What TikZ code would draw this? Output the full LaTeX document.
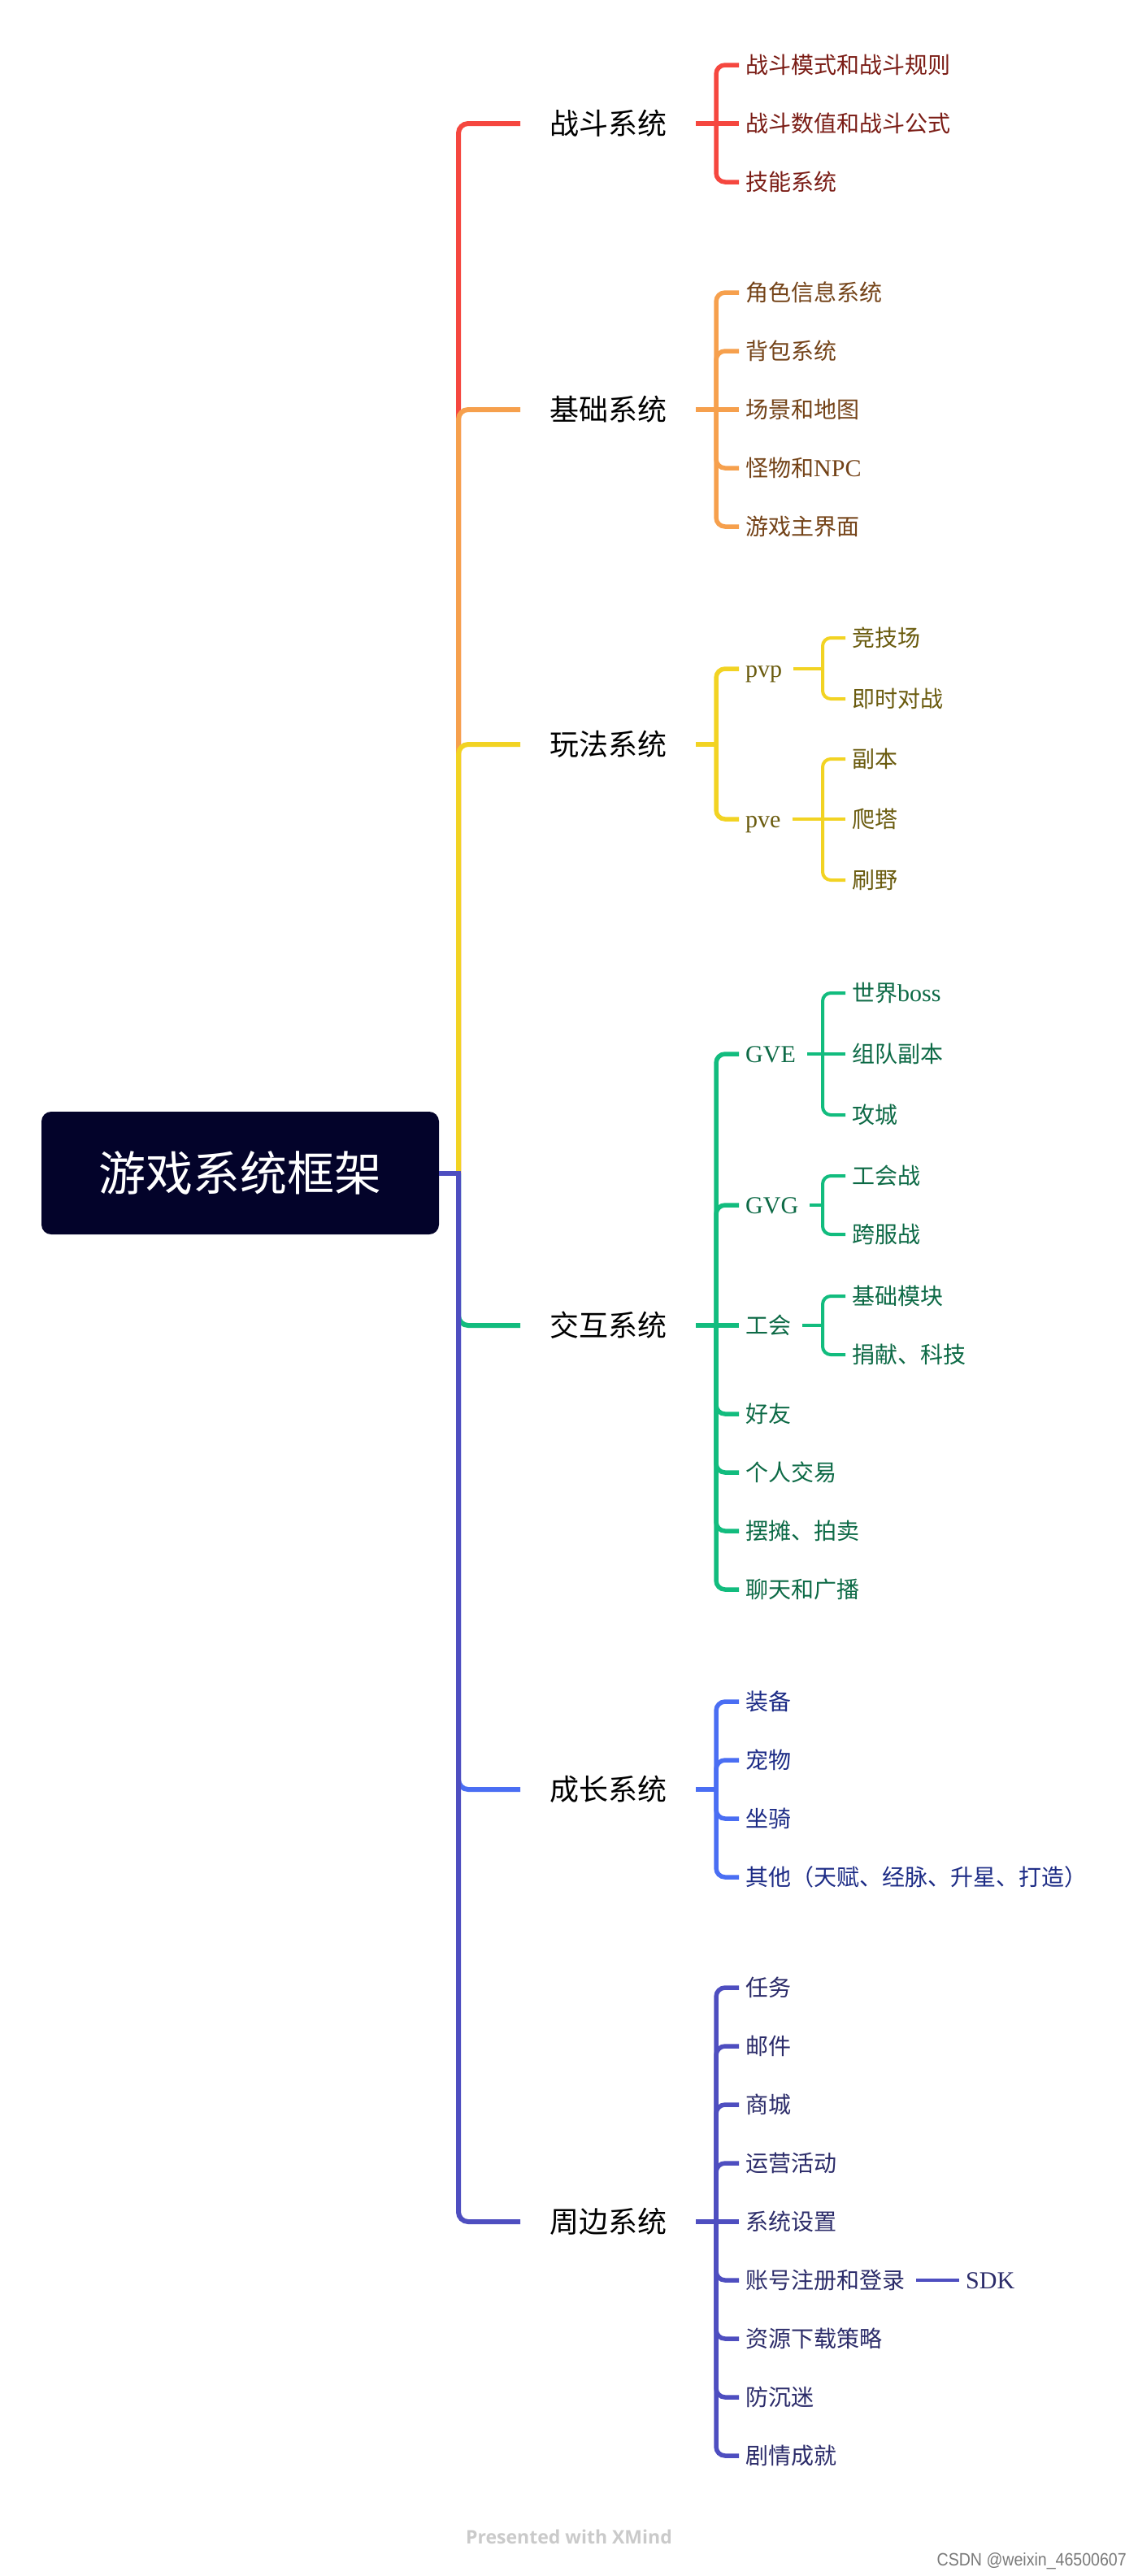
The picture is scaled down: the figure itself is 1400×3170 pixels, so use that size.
\documentclass[tikz,border=0pt]{standalone}
\usepackage{fontspec}
\setmainfont{Noto Sans CJK SC}
\newfontfamily\cjkf{Noto Sans CJK SC}
\newfontfamily\latf{Liberation Serif}
\newfontfamily\xmf{Open Sans}
\newfontfamily\wmf{Liberation Sans}
\newcommand\LatTxt[1]{{\latf\fontsize{30}{32}\selectfont #1}}
\definecolor{rootbg}{HTML}{03032A}
\definecolor{cRed}{HTML}{F5473F}
\definecolor{cOrange}{HTML}{F6A04D}
\definecolor{cYellow}{HTML}{F2D323}
\definecolor{cGreen}{HTML}{12BC7E}
\definecolor{cBlue}{HTML}{4A6EF3}
\definecolor{cPurple}{HTML}{4E4EC0}
\definecolor{tRed}{HTML}{7B1D16}
\definecolor{tOrange}{HTML}{744318}
\definecolor{tYellow}{HTML}{6A5B0E}
\definecolor{tGreen}{HTML}{0D6A46}
\definecolor{tBlue}{HTML}{1D2C86}
\definecolor{tPurple}{HTML}{2C2C6A}
\definecolor{xmgray}{HTML}{CACACA}
\definecolor{wmgray}{HTML}{7A7A7A}
\begin{document}
\begin{tikzpicture}[x=1pt,y=-1pt,
  rootbox/.style={fill=rootbg, rounded corners=12pt, minimum width=489pt, minimum height=151pt,
    text=white, font=\cjkf\fontsize{58}{64}\selectfont, inner sep=0pt},
  topic/.style={anchor=west, inner xsep=36pt, inner ysep=0pt, text=black,
    font=\cjkf\fontsize{36}{40}\selectfont, text height=31.3pt, text depth=4.7pt},
  leaf/.style={anchor=west, inner xsep=8pt, inner ysep=0pt, text=#1,
    font=\cjkf\fontsize{28}{32}\selectfont, text height=24.4pt, text depth=3.6pt},
  lone/.style={draw=#1, line width=6pt, rounded corners=12pt},
  ltwo/.style={draw=#1, line width=5.5pt, rounded corners=11pt},
  lthree/.style={draw=#1, line width=4pt, rounded corners=10pt},
]
\useasboundingbox[fill=white] (0,0) rectangle (1400,3170);

% root
\node[rootbox] (root) at (295.5,1443.5) {游戏系统框架};
\coordinate (T) at (564,0);
\coordinate (B2) at (881,0);
\coordinate (B3) at (1012,0);
\coordinate (J) at (T |- root.east);

% level 1
\node[topic] (zd) at (640,152) {战斗系统};
\node[topic] (jc) at (640,504) {基础系统};
\node[topic] (wf) at (640,916) {玩法系统};
\node[topic] (hd) at (640,1631) {交互系统};
\node[topic] (cz) at (640,2202) {成长系统};
\node[topic] (zb) at (640,2734) {周边系统};

% 战斗
\node[leaf=tRed] (zd1) at (909,80) {战斗模式和战斗规则};
\node[leaf=tRed] (zd2) at (909,152) {战斗数值和战斗公式};
\node[leaf=tRed] (zd3) at (909,224) {技能系统};
% 基础
\node[leaf=tOrange] (jc1) at (909,360) {角色信息系统};
\node[leaf=tOrange] (jc2) at (909,432) {背包系统};
\node[leaf=tOrange] (jc3) at (909,504) {场景和地图};
\node[leaf=tOrange] (jc4) at (909,576) {怪物和\LatTxt{NPC}};
\node[leaf=tOrange] (jc5) at (909,648) {游戏主界面};
% 玩法
\node[leaf=tYellow] (pvp) at (909,823) {\LatTxt{pvp}};
\node[leaf=tYellow] (pve) at (909,1008) {\LatTxt{pve}};
\node[leaf=tYellow] (pvp1) at (1040,785) {竞技场};
\node[leaf=tYellow] (pvp2) at (1040,860) {即时对战};
\node[leaf=tYellow] (pve1) at (1040,934) {副本};
\node[leaf=tYellow] (pve2) at (1040,1008) {爬塔};
\node[leaf=tYellow] (pve3) at (1040,1083) {刷野};
% 交互
\node[leaf=tGreen] (gve) at (909,1297) {\LatTxt{GVE}};
\node[leaf=tGreen] (gvg) at (909,1483) {\LatTxt{GVG}};
\node[leaf=tGreen] (gh) at (909,1631) {工会};
\node[leaf=tGreen] (hy) at (909,1740) {好友};
\node[leaf=tGreen] (gr) at (909,1812) {个人交易};
\node[leaf=tGreen] (bt) at (909,1884) {摆摊、拍卖};
\node[leaf=tGreen] (lt) at (909,1956) {聊天和广播};
\node[leaf=tGreen] (gve1) at (1040,1222) {世界\LatTxt{boss}};
\node[leaf=tGreen] (gve2) at (1040,1297) {组队副本};
\node[leaf=tGreen] (gve3) at (1040,1372) {攻城};
\node[leaf=tGreen] (gvg1) at (1040,1447) {工会战};
\node[leaf=tGreen] (gvg2) at (1040,1519) {跨服战};
\node[leaf=tGreen] (gh1) at (1040,1595) {基础模块};
\node[leaf=tGreen] (gh2) at (1040,1667) {捐献、科技};
% 成长
\node[leaf=tBlue] (cz1) at (909,2094) {装备};
\node[leaf=tBlue] (cz2) at (909,2166) {宠物};
\node[leaf=tBlue] (cz3) at (909,2238) {坐骑};
\node[leaf=tBlue] (cz4) at (909,2310) {其他（天赋、经脉、升星、打造）};
% 周边
\node[leaf=tPurple] (zb1) at (909,2446) {任务};
\node[leaf=tPurple] (zb2) at (909,2518) {邮件};
\node[leaf=tPurple] (zb3) at (909,2590) {商城};
\node[leaf=tPurple] (zb4) at (909,2662) {运营活动};
\node[leaf=tPurple] (zb5) at (909,2734) {系统设置};
\node[leaf=tPurple] (zb6) at (909,2806) {账号注册和登录};
\node[leaf=tPurple] (zb7) at (909,2878) {资源下载策略};
\node[leaf=tPurple] (zb8) at (909,2950) {防沉迷};
\node[leaf=tPurple] (zb9) at (909,3022) {剧情成就};
\node[leaf=tPurple, anchor=west] (sdk) at (1180,2806) {\LatTxt{SDK}};

% level-1 connectors (order gives overlap like the reference)
\draw[lone=cRed] (J) |- (zd.west);
\draw[lone=cOrange] (J) |- (jc.west);
\draw[lone=cYellow] (J) |- (wf.west);
\draw[lone=cGreen] (J) |- (hd.west);
\draw[lone=cBlue] (J) |- (cz.west);
\draw[lone=cPurple] (J) |- (zb.west);
\draw[draw=cPurple, line width=6pt] (root.east) -- ([xshift=3pt]J);

% 战斗
\draw[ltwo=cRed] (zd.east) -- (zd2.west);
\draw[ltwo=cRed] (zd.east -| B2) |- (zd1.west);
\draw[ltwo=cRed] (zd.east -| B2) |- (zd3.west);
% 基础
\draw[ltwo=cOrange] (jc.east) -- (jc3.west);
\foreach \c in {jc1,jc2,jc4,jc5}{\draw[ltwo=cOrange] (jc.east -| B2) |- (\c.west);}
% 玩法
\draw[ltwo=cYellow] (wf.east) -- (wf.east -| B2);
\foreach \c in {pvp,pve}{\draw[ltwo=cYellow] (wf.east -| B2) |- (\c.west);}
\draw[lthree=cYellow] ([xshift=6pt]pvp.east) -- (pvp.east -| B3);
\foreach \c in {pvp1,pvp2}{\draw[lthree=cYellow] (pvp.east -| B3) |- (\c.west);}
\draw[lthree=cYellow] ([xshift=6pt]pve.east) -- (pve2.west);
\foreach \c in {pve1,pve3}{\draw[lthree=cYellow] (pve.east -| B3) |- (\c.west);}
% 交互
\draw[ltwo=cGreen] (hd.east) -- (gh.west);
\foreach \c in {gve,gvg,hy,gr,bt,lt}{\draw[ltwo=cGreen] (hd.east -| B2) |- (\c.west);}
\draw[lthree=cGreen] ([xshift=6pt]gve.east) -- (gve2.west);
\foreach \c in {gve1,gve3}{\draw[lthree=cGreen] (gve.east -| B3) |- (\c.west);}
\draw[lthree=cGreen] ([xshift=6pt]gvg.east) -- (gvg.east -| B3);
\foreach \c in {gvg1,gvg2}{\draw[lthree=cGreen] (gvg.east -| B3) |- (\c.west);}
\draw[lthree=cGreen] ([xshift=6pt]gh.east) -- (gh.east -| B3);
\foreach \c in {gh1,gh2}{\draw[lthree=cGreen] (gh.east -| B3) |- (\c.west);}
% 成长
\draw[ltwo=cBlue] (cz.east) -- (cz.east -| B2);
\foreach \c in {cz1,cz2,cz3,cz4}{\draw[ltwo=cBlue] (cz.east -| B2) |- (\c.west);}
% 周边
\draw[ltwo=cPurple] (zb.east) -- (zb5.west);
\foreach \c in {zb1,zb2,zb3,zb4,zb6,zb7,zb8,zb9}{\draw[ltwo=cPurple] (zb.east -| B2) |- (\c.west);}
\draw[lthree=cPurple] ([xshift=6pt]zb6.east) -- (sdk.west);

% footer
\node[text=xmgray, font=\xmf\bfseries\fontsize{23}{26}\selectfont, inner sep=0pt] (xm) at (700,3122) {Presented with XMind};
\node[anchor=east, text=wmgray, font=\wmf\fontsize{22}{24}\selectfont, xscale=0.89, inner sep=0pt] (wm) at (1386,3152) {CSDN @weixin\_46500607};
\end{tikzpicture}
\end{document}
